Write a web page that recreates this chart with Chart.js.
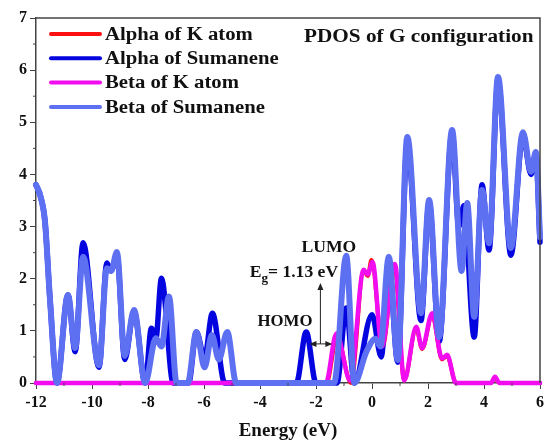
<!DOCTYPE html>
<html>
<head>
<meta charset="utf-8">
<script src="https://cdn.jsdelivr.net/npm/chart.js@4.4.1/dist/chart.umd.min.js"></script>
<style>
  html, body { margin: 0; padding: 0; background: #fff; }
  #wrap { width: 548px; height: 442px; }
</style>
</head>
<body>
<div id="wrap"><canvas id="pdos" width="548" height="442"></canvas></div>
<script>
// energy (eV) / PDOS values, one pair of arrays per curve
const alphaKEnergy = [-12, -1.62, -1.25, -0.75, -0.3, -0.15, -0.02, 0.38, 0.8, 1.15, 1.58, 1.79, 2.15, 2.5, 2.68, 3.0, 4.25, 4.39, 4.55, 6];
const alphaKDos    = [0, 0, 0.9, 0, 2.15, 2.05, 2.36, 0.7, 2.25, 0.05, 1.05, 0.65, 1.3, 0.45, 0.52, 0, 0, 0.1, 0, 0];

const alphaSumEnergy = [-12, -11.85, -11.68, -11.5, -11.25, -10.86, -10.6, -10.32, -9.75, -9.47, -9.32, -9.11, -8.83, -8.5, -8.1,
  -7.88, -7.72, -7.52, -7.1, -6.55, -6.27, -5.98, -5.7, -5.26, -2.7, -2.35, -2.0, -1.25, -0.92, -0.63, 0.0, 0.33, 0.6, 0.92,
  1.26, 1.75, 2.04, 2.4, 2.86, 3.1, 3.28, 3.65, 3.93, 4.18, 4.5, 4.96, 5.39, 5.68, 5.85, 6.0];
const alphaSumDos = [3.8, 3.6, 3.1, 1.6, 0, 1.69, 0.6, 2.69, 0.3, 2.3, 2.15, 2.45, 0.45, 1.38, 0,
  1.05, 0.85, 2.01, 0, 0, 0.98, 0.48, 1.34, 0, 0, 0.98, 0, 0, 1.44, 0, 1.31, 0.5, 2.3, 0.4,
  4.6, 1.2, 3.45, 0.8, 4.8, 3.0, 3.4, 0.88, 3.8, 2.55, 5.8, 2.45, 4.75, 4.0, 4.4, 2.7];

const betaKEnergy = [-12, -1.65, -1.27, -0.78, -0.3, -0.15, 0.02, 0.35, 0.82, 1.15, 1.58, 1.79, 2.15, 2.5, 2.68, 3.0, 4.25, 4.39, 4.55, 6];
const betaKDos    = [0, 0, 0.95, 0.05, 2.17, 2.08, 2.32, 0.7, 2.28, 0.05, 1.08, 0.67, 1.34, 0.47, 0.54, 0, 0, 0.12, 0, 0];

const betaSumEnergy = [-12, -11.85, -11.68, -11.5, -11.25, -10.86, -10.6, -10.32, -9.75, -9.47, -9.32, -9.11, -8.83, -8.5, -8.1,
  -7.72, -7.52, -7.25, -6.98, -6.58, -6.27, -5.98, -5.72, -5.47, -5.17, -4.85, -1.35, -0.92, -0.63, -0.2, 0.12, 0.3, 0.6, 0.92,
  1.26, 1.75, 2.04, 2.4, 2.86, 3.2, 3.4, 3.65, 3.93, 4.18, 4.5, 4.96, 5.39, 5.68, 5.85, 6.0];
const betaSumDos = [3.8, 3.6, 3.1, 1.6, 0, 1.69, 0.67, 2.42, 0.34, 2.2, 2.15, 2.51, 0.52, 1.4, 0,
  0.86, 0.7, 1.66, 0, 0, 0.98, 0.3, 0.92, 0.45, 0.98, 0, 0, 2.44, 0, 0.6, 0.85, 0.7, 2.42, 0.44,
  4.72, 1.34, 3.51, 0.88, 4.85, 2.15, 3.45, 1.27, 3.7, 2.68, 5.87, 2.59, 4.81, 4.05, 4.43, 2.8];

const seriesLabels = ["Alpha of K atom", "Alpha of Sumanene", "Beta of K atom", "Beta of Sumanene"];
const xTicks = [-12, -10, -8, -6, -4, -2, 0, 2, 4, 6];
const yTicks = [0, 1, 2, 3, 4, 5, 6, 7];

const serif = '"Liberation Serif", "Times New Roman", serif';

function toPoints(xArr, yArr) {
  return yArr.map(function (v, i) {
    return { x: xArr[i], y: v };
  });
}

// bold serif text, stretched a little sideways like the original image
function wideText(ctx, text, x, y, size, sx) {
  ctx.save();
  ctx.font = "bold " + size + "px " + serif;
  ctx.translate(x, y);
  ctx.scale(sx, 1);
  ctx.fillText(text, 0, 0);
  let w = ctx.measureText(text).width * sx;
  ctx.restore();
  return w;
}

function arrowHead(ctx, x, y, ang) {
  ctx.save();
  ctx.translate(x, y);
  ctx.rotate(ang);
  ctx.beginPath();
  ctx.moveTo(0, 0);
  ctx.lineTo(-7, -3);
  ctx.lineTo(-7, 3);
  ctx.closePath();
  ctx.fill();
  ctx.restore();
}

function seg(ctx, x1, y1, x2, y2) {
  ctx.beginPath();
  ctx.moveTo(x1, y1);
  ctx.lineTo(x2, y2);
  ctx.stroke();
}

const decor = {
  id: "decor",
  afterDraw(chart) {
    let ctx = chart.ctx;
    let area = chart.chartArea;
    let xs = chart.scales.x, ys = chart.scales.y;
    ctx.save();

    //frame on top and right
    ctx.strokeStyle = "#444";
    ctx.lineWidth = 1.5;
    ctx.beginPath();
    ctx.moveTo(area.left, area.top);
    ctx.lineTo(area.right, area.top);
    ctx.lineTo(area.right, area.bottom);
    ctx.stroke();

    //minor ticks
    ctx.lineWidth = 1;
    for (let v = -11; v < 6; v += 2) {
      let p = xs.getPixelForValue(v);
      seg(ctx, p, area.bottom, p, area.bottom + 3);
    }
    for (let v = 0.5; v < 7; v += 1) {
      let p = ys.getPixelForValue(v);
      seg(ctx, area.left - 3, p, area.left, p);
    }

    //legend
    ctx.lineCap = "round";
    chart.data.datasets.forEach(function (ds, i) {
      let y = area.top + 16 + i * 24.3;
      ctx.strokeStyle = ds.borderColor;
      ctx.lineWidth = 4;
      seg(ctx, area.left + 15, y, area.left + 64, y);
      ctx.fillStyle = "#111";
      ctx.textBaseline = "middle";
      wideText(ctx, ds.label, area.left + 69, y + 1, 18, 1.15);
    });

    //title
    ctx.textBaseline = "alphabetic";
    wideText(ctx, "PDOS of G configuration", area.right - 236, area.top + 24, 18, 1.18);

    //band gap annotation
    ctx.fillStyle = "#111";
    wideText(ctx, "LUMO", xs.getPixelForValue(-2.52), ys.getPixelForValue(2.51), 16, 1.1);
    wideText(ctx, "HOMO", xs.getPixelForValue(-4.09), ys.getPixelForValue(1.09), 16, 1.05);
    let ex = xs.getPixelForValue(-4.37), ey = ys.getPixelForValue(2.03);
    ex += wideText(ctx, "E", ex, ey, 16, 1.1);
    ex += wideText(ctx, "g", ex, ey + 5, 12, 1.1);
    wideText(ctx, "= 1.13 eV", ex, ey, 16, 1.1);

    ctx.strokeStyle = "#222";
    ctx.fillStyle = "#222";
    ctx.lineWidth = 1;
    ctx.lineCap = "butt";
    let hx1 = xs.getPixelForValue(-2.235), hx2 = xs.getPixelForValue(-1.416);
    let hy = ys.getPixelForValue(0.75);
    seg(ctx, hx1 + 3, hy, hx2 - 3, hy);
    arrowHead(ctx, hx1, hy, Math.PI);
    arrowHead(ctx, hx2, hy, 0);
    let vx = xs.getPixelForValue(-1.843);
    let vy = ys.getPixelForValue(1.92);
    seg(ctx, vx, hy, vx, vy + 4);
    arrowHead(ctx, vx, vy, -Math.PI / 2);

    ctx.restore();
  },
};

const tickFont = { family: serif, weight: "bold", size: 16 };

let ctx = document.getElementById("pdos").getContext("2d");
new Chart(ctx, {
  type: "line",
  data: {
    datasets: [
      {
        label: seriesLabels[0],
        data: toPoints(alphaKEnergy, alphaKDos),
        borderColor: "#ff1010",
        borderWidth: 4,
        order: 4,
      },
      {
        label: seriesLabels[1],
        data: toPoints(alphaSumEnergy, alphaSumDos),
        borderColor: "#0505e0",
        borderWidth: 5.5,
        order: 3,
      },
      {
        label: seriesLabels[2],
        data: toPoints(betaKEnergy, betaKDos),
        borderColor: "#f20cf0",
        borderWidth: 4.5,
        order: 2,
      },
      {
        label: seriesLabels[3],
        data: toPoints(betaSumEnergy, betaSumDos),
        borderColor: "#5e70f2",
        borderWidth: 6,
        order: 1,
      },
    ],
  },
  options: {
    responsive: false,
    animation: false,
    devicePixelRatio: 1,
    layout: { padding: { top: 18, right: 7, left: 0, bottom: 0 } },
    elements: {
      point: { radius: 0 },
      line: { cubicInterpolationMode: "monotone", borderCapStyle: "round", borderJoinStyle: "round", fill: false },
    },
    clip: false,
    plugins: { legend: { display: false }, tooltip: { enabled: false } },
    scales: {
      x: {
        type: "linear",
        min: xTicks[0],
        max: xTicks[xTicks.length - 1],
        afterBuildTicks: function (scale) {
          scale.ticks = xTicks.map(function (v) { return { value: v }; });
        },
        afterFit: function (scale) { scale.height = 59; },
        ticks: { color: "#111", font: tickFont, padding: 4, maxRotation: 0, autoSkip: false },
        grid: { drawOnChartArea: false, drawTicks: true, tickLength: 6, tickColor: "#444", tickWidth: 1 },
        border: { color: "#444", width: 1.5 },
        title: { display: true, text: "Energy (eV)", color: "#111", font: { family: serif, weight: "bold", size: 19 }, padding: 0 },
      },
      y: {
        type: "linear",
        min: yTicks[0],
        max: yTicks[yTicks.length - 1],
        afterBuildTicks: function (scale) {
          scale.ticks = yTicks.map(function (v) { return { value: v }; });
        },
        afterFit: function (scale) { scale.width = 36; },
        ticks: { color: "#111", font: tickFont, padding: 3, autoSkip: false },
        grid: { drawOnChartArea: false, drawTicks: true, tickLength: 6, tickColor: "#444", tickWidth: 1 },
        border: { color: "#444", width: 1.5 },
      },
    },
  },
  plugins: [decor],
});
</script>
</body>
</html>
